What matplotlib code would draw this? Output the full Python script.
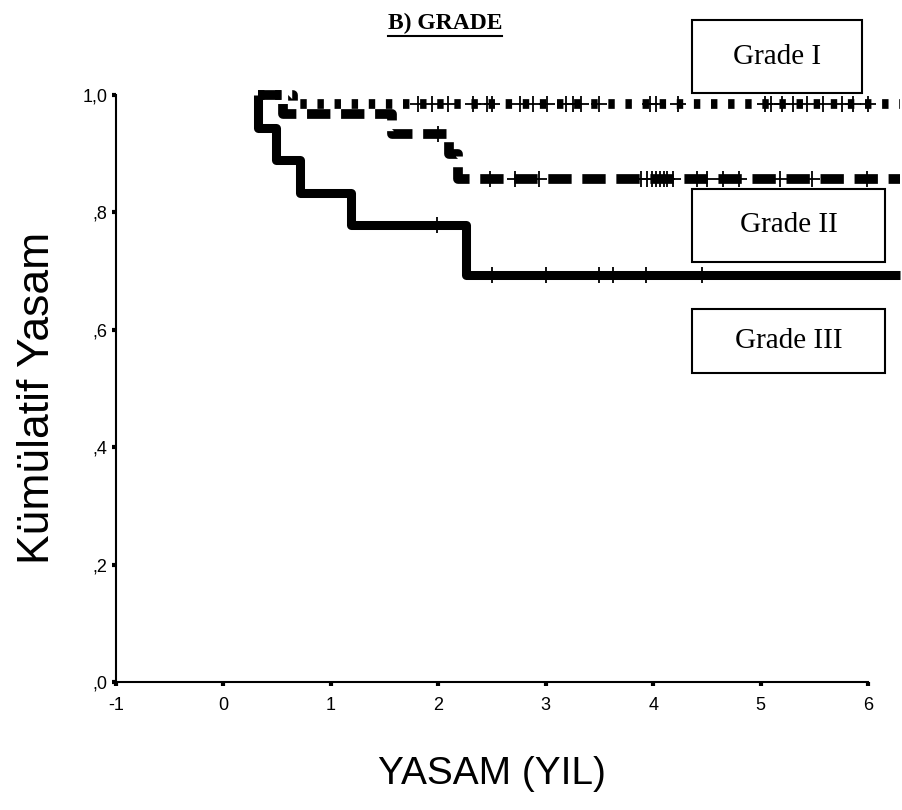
import matplotlib
matplotlib.use("Agg")
import matplotlib.pyplot as plt
from matplotlib.patches import Rectangle
from matplotlib.lines import Line2D

# Kaplan-Meier egrileri (okunan degerler)
start_time = 0.32
end_time = 6.3

grade1_times = [0.65]
grade1_surv = [0.985]
grade1_censor = [1.81, 1.94, 2.09, 2.32, 2.45, 2.50, 2.76, 2.88, 3.01, 3.19, 3.25,
                 3.33, 3.50, 3.97, 4.03, 4.23, 5.04, 5.10, 5.20, 5.30, 5.43, 5.58,
                 5.76, 5.86, 6.0]

grade2_times = [0.55, 1.57, 2.10, 2.18]
grade2_surv = [0.967, 0.933, 0.900, 0.857]
grade2_censor = [2.0, 2.48, 2.71, 2.94, 3.89, 3.94, 3.99, 4.03, 4.06, 4.10, 4.13,
                 4.18, 4.41, 4.50, 4.65, 4.80, 5.18, 5.48, 5.99]

grade3_times = [0.32, 0.49, 0.71, 1.19, 2.26]
grade3_surv = [0.944, 0.889, 0.833, 0.778, 0.694]
grade3_censor = [1.99, 2.50, 3.00, 3.50, 3.63, 3.93, 4.45]

xticks = [-1, 0, 1, 2, 3, 4, 5, 6]
yticks = [0.0, 0.2, 0.4, 0.6, 0.8, 1.0]
ytick_labels = [',0', ',2', ',4', ',6', ',8', '1,0']


def km_steps(times, surv):
    xs = [start_time] + list(times) + [end_time]
    ys = [1.0] + list(surv) + [surv[-1]]
    return xs, ys


def surv_at(t, times, surv):
    s = 1.0
    for ti, si in zip(times, surv):
        if t >= ti:
            s = si
    return s


fig = plt.figure(figsize=(9.03, 8.1), dpi=100)
ax = fig.add_axes([0.1285, 0.158, 0.8328, 0.7247])

curves = [
    (grade3_times, grade3_surv, grade3_censor, '-', 6.5),
    (grade2_times, grade2_surv, grade2_censor, (0, (2.4, 1.1)), 7),
    (grade1_times, grade1_surv, grade1_censor, (0, (0.66, 1.1)), 7),
]
for times, surv, cens, ls, lw in curves:
    xs, ys = km_steps(times, surv)
    ax.step(xs, ys, where='post', color='black', linestyle=ls, linewidth=lw,
            solid_capstyle='butt', dash_capstyle='butt', clip_on=False)
    cy = [surv_at(c, times, surv) for c in cens]
    ax.plot(cens, cy, linestyle='none', marker='+', markersize=11,
            markeredgewidth=1.3, color='black', clip_on=False)

ax.set_xlim(-1, 6)
ax.set_ylim(0, 1.0)
ax.set_xticks(xticks)
ax.set_xticklabels([str(v) for v in xticks], fontsize=13, family='Liberation Sans')
ax.set_yticks(yticks)
ax.set_yticklabels(ytick_labels, fontsize=13, family='Liberation Sans')
ax.tick_params(direction='out', length=3, width=3)
ax.tick_params(axis='x', pad=8)
ax.tick_params(axis='y', pad=3)
for side in ['top', 'right']:
    ax.spines[side].set_visible(False)
for side in ['left', 'bottom']:
    ax.spines[side].set_linewidth(1.5)

fig.text(0.042, 0.509, 'Kümülatif Yasam', rotation=90, fontsize=32,
         family='Liberation Sans', ha='center', va='center')
fig.text(0.545, 0.044, 'YASAM (YIL)', fontsize=28, family='Liberation Sans',
         ha='center', va='center')

title = fig.text(0.493, 0.971, 'B) GRADE', fontsize=17, fontweight='bold',
                 family='Liberation Serif', ha='center', va='center')
fig.canvas.draw()
bb = title.get_window_extent().transformed(fig.transFigure.inverted())
fig.add_artist(Line2D([bb.x0, bb.x1], [bb.y0 - 0.002, bb.y0 - 0.002],
                      color='black', linewidth=1.5, transform=fig.transFigure))

# legend kutulari
W, H = 903.0, 810.0
boxes = [
    ('Grade I', 692, 20, 862, 93),
    ('Grade II', 692, 189, 885, 262),
    ('Grade III', 692, 309, 885, 373),
]
for label, x0, y0, x1, y1 in boxes:
    fig.add_artist(Rectangle((x0 / W, 1 - y1 / H), (x1 - x0) / W, (y1 - y0) / H,
                             fill=False, edgecolor='black', linewidth=1.5,
                             transform=fig.transFigure))
    fig.text((x0 + x1) / 2 / W, 1 - (y0 + y1) / 2 / H, label, fontsize=21,
             family='Liberation Serif', ha='center', va='center')

fig.savefig('out.png', dpi=100)
